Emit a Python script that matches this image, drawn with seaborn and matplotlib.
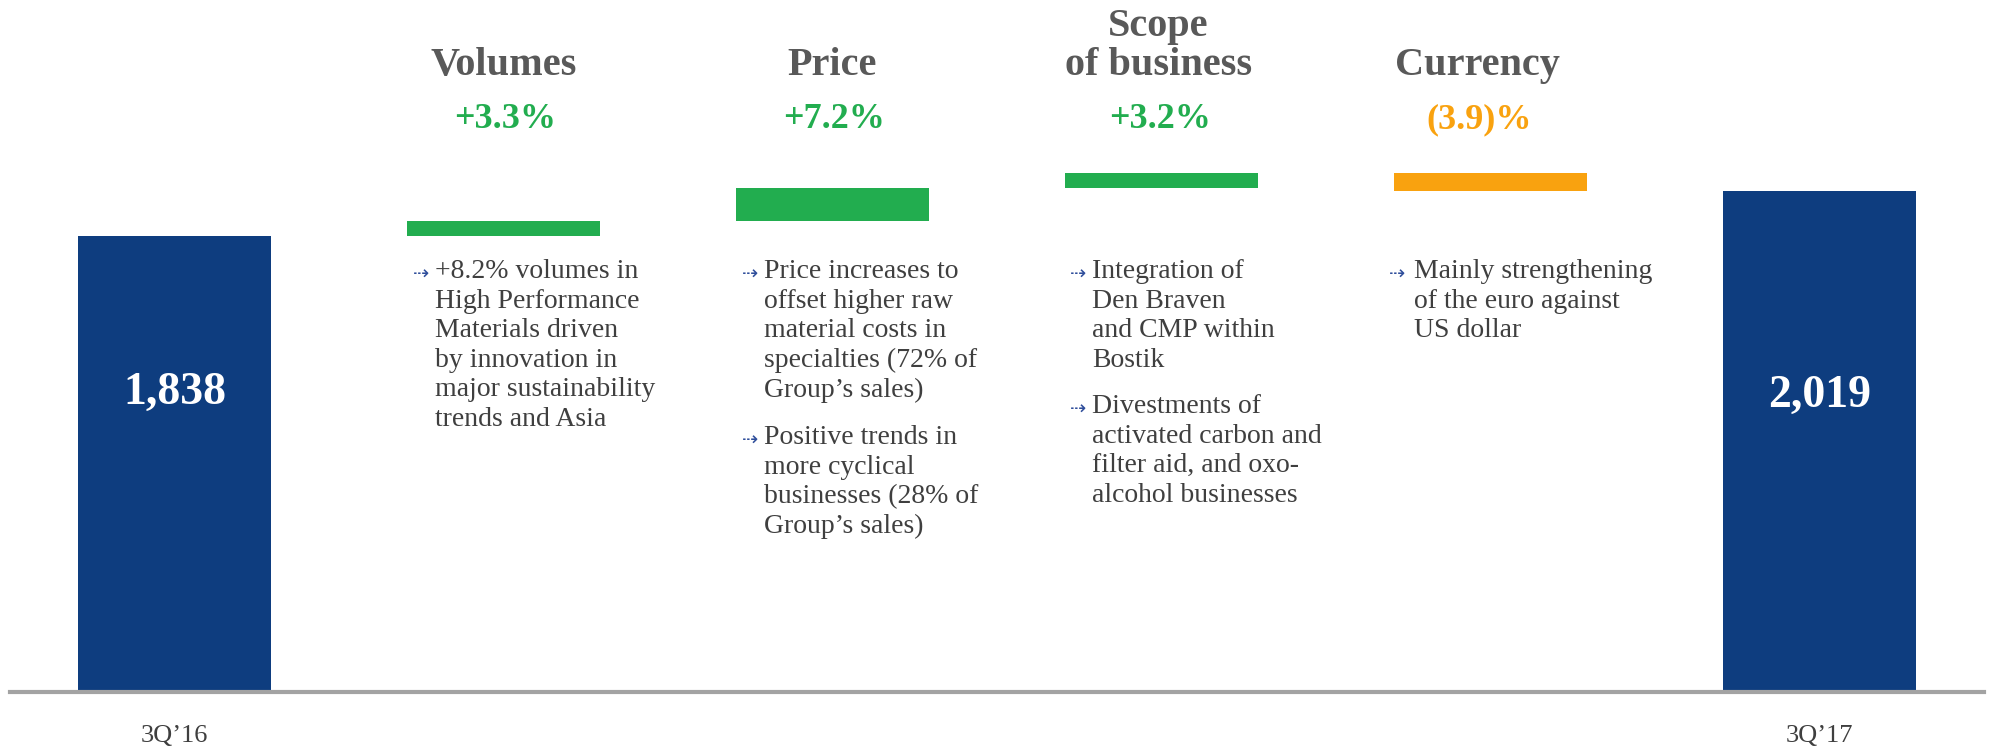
import numpy as np
import pandas as pd
import matplotlib
matplotlib.use("Agg")
import matplotlib.pyplot as plt
import seaborn as sns

# ---------------- data ----------------
categories = ["3Q'16", "Volumes", "Price", "Scope\nof business", "Currency", "3Q'17"]
start_value = 1838
deltas = [61, 132, 59, -71]          # EUR m
end_value = 2019
pct_labels = ["+3.3%", "+7.2%", "+3.2%", "(3.9)%"]
value_labels = ["1,838", "2,019"]
bullets = [
    ["+8.2% volumes in\nHigh Performance\nMaterials driven\nby innovation in\nmajor sustainability\ntrends and Asia"],
    ["Price increases to\noffset higher raw\nmaterial costs in\nspecialties (72% of\nGroup\u2019s sales)",
     "Positive trends in\nmore cyclical\nbusinesses (28% of\nGroup\u2019s sales)"],
    ["Integration of\nDen Braven\nand CMP within\nBostik",
     "Divestments of\nactivated carbon and\nfilter aid, and oxo-\nalcohol businesses"],
    ["Mainly strengthening\nof the euro against\nUS dollar"],
]
x_labels = ["3Q\u201916", "3Q\u201917"]

NAVY = "#0E3D7F"
GREEN = "#22AD4F"
ORANGE = "#F9A20F"
TITLE_GRAY = "#595959"
TEXT_GRAY = "#3F3F3F"
BULLET = "#2F4E9B"

# ------------- waterfall geometry from data -------------
cum = [start_value]
for d in deltas:
    cum.append(cum[-1] + d)
bottoms = [0]
heights = [start_value]
colors = [NAVY]
for i, d in enumerate(deltas):
    bottoms.append(min(cum[i], cum[i + 1]))
    heights.append(abs(d))
    colors.append(GREEN if d >= 0 else ORANGE)
bottoms.append(0)
heights.append(end_value)
colors.append(NAVY)

df = pd.DataFrame({"cat": [f"c{i}" for i in range(6)], "height": heights})

W, H = 1992, 751
fig = plt.figure(figsize=(W / 100, H / 100), dpi=100)
base_px = 692
ax = fig.add_axes([10 / W, (H - base_px) / H, 1974 / W, base_px / H])
sns.barplot(data=df, x="cat", y="height", bottom=bottoms, width=0.585,
            color=NAVY, ax=ax, saturation=1)
for p, c in zip(ax.patches, colors):
    p.set_facecolor(c)
    p.set_edgecolor("none")

ymax = 2789
ax.set_ylim(0, ymax)
ax.set_xlim(-0.5, 5.5)
ax.axis("off")
ax.axhline(0, color="#A3A3A3", lw=3, clip_on=False, zorder=5)

def py(y_full):
    return (base_px - y_full) * ymax / base_px

SERIF = "Liberation Serif"

# titles
title_x = [1.0, 2.0, 2.99, 3.96]
for i, (t, x) in enumerate(zip(categories[1:5], title_x)):
    ax.text(x, py(75), t, ha="center", va="baseline", fontsize=29, fontweight="bold",
            color=TITLE_GRAY, family=SERIF, linespacing=1.08)
    ax.text(x + 0.005, py(120), pct_labels[i], ha="center", va="center", fontsize=26,
            fontweight="bold", color=GREEN if deltas[i] >= 0 else ORANGE, family=SERIF)

# bullets
bullet_x = [0.725, 1.725, 2.722, 3.69]
text_dx = [0.066, 0.068, 0.066, 0.078]
para_y = [[259], [259, 425], [259, 394], [259]]
for i in range(4):
    for txt, yy in zip(bullets[i], para_y[i]):
        ax.text(bullet_x[i], py(yy + 15), "\u21e2", ha="left", va="center", fontsize=14,
                color=BULLET, family="DejaVu Sans")
        ax.text(bullet_x[i] + text_dx[i], py(yy), txt, ha="left", va="top", fontsize=20,
                color=TEXT_GRAY, family=SERIF, linespacing=1.24)

# value labels inside end bars
for x, lab, yy in [(0, value_labels[0], 393), (5, value_labels[1], 396)]:
    ax.text(x, py(yy), lab, ha="center", va="center", fontsize=33, fontweight="bold",
            color="white", family=SERIF)

# x labels
for x, lab in [(0, x_labels[0]), (5, x_labels[1])]:
    ax.text(x, py(736), lab, ha="center", va="center", fontsize=19, color=TEXT_GRAY,
            family=SERIF, clip_on=False)

fig.savefig("out.png", dpi=100)
